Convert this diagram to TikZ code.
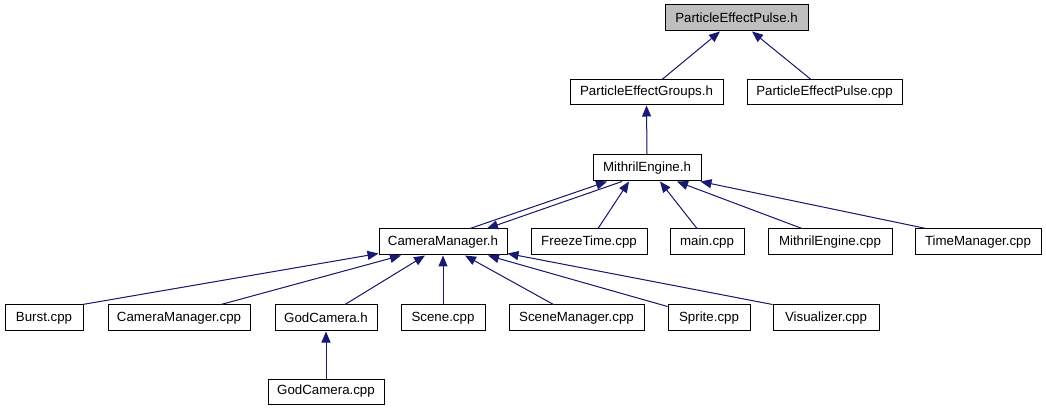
\documentclass[tikz,border=0pt]{standalone}
\usepackage{fontspec}
\setmainfont{Liberation Sans}
\usetikzlibrary{arrows.meta}
\definecolor{edgeblue}{HTML}{191970}
\definecolor{rootgray}{HTML}{BFBFBF}
\tikzset{
  fbox/.style={draw=black, line width=1pt, fill=white, inner sep=0pt, minimum height=26pt,
    font=\fontsize{13.3pt}{15pt}\selectfont, text=black},
  rootbox/.style={fbox, fill=rootgray},
  dep/.style={draw=edgeblue, line width=1pt, -{Triangle[length=11pt,width=9pt]}, fill=edgeblue}
}
\begin{document}
\begin{tikzpicture}[x=1pt,y=-1pt]
\useasboundingbox[fill=white] (0,0) rectangle (1046,411);
% row 0
\node[rootbox, minimum width=143pt] (peh) at (736.5,18) {ParticleEffectPulse.h};
% row 1
\node[fbox, minimum width=153pt, minimum height=25pt] (peg) at (646.5,92.5) {ParticleEffectGroups.h};
\node[fbox, minimum width=155pt, minimum height=25pt] (pec) at (824.5,92.5) {ParticleEffectPulse.cpp};
% row 2
\node[fbox, minimum width=108pt] (meh) at (647,168) {MithrilEngine.h};
% row 3
\node[fbox, minimum width=128pt] (cmh) at (443,242) {CameraManager.h};
\node[fbox, minimum width=116pt] (ftc) at (589,242) {FreezeTime.cpp};
\node[fbox, minimum width=74pt] (mainc) at (707,242) {main.cpp};
\node[fbox, minimum width=124pt] (mec) at (830,242) {MithrilEngine.cpp};
\node[fbox, minimum width=126pt] (tmc) at (978,242) {TimeManager.cpp};
% row 4
\node[fbox, minimum width=78pt] (burst) at (44,318) {Burst.cpp};
\node[fbox, minimum width=142pt] (cmc) at (179,318) {CameraManager.cpp};
\node[fbox, minimum width=102pt] (gch) at (326,318) {GodCamera.h};
\node[fbox, minimum width=84pt] (scene) at (443,318) {Scene.cpp};
\node[fbox, minimum width=135pt] (smc) at (576.5,318) {SceneManager.cpp};
\node[fbox, minimum width=82pt] (sprite) at (709,318) {Sprite.cpp};
\node[fbox, minimum width=106pt] (vis) at (826,318) {Visualizer.cpp};
% row 5
\node[fbox, minimum width=116pt, minimum height=25pt] (gcc) at (326,391.5) {GodCamera.cpp};
% edges
\draw[dep] ([xshift=15.5pt]peg.north) -- ([xshift=-16.5pt]peh.south);
\draw[dep] ([xshift=-13.5pt]pec.north) -- ([xshift=15.5pt]peh.south);
\draw[dep] (meh.north) -- (peg.south);
\draw[dep] ([xshift=27pt]cmh.north) -- ([xshift=-40pt]meh.south);
\draw[dep] ([xshift=-25pt]meh.south) -- ([xshift=44pt]cmh.north);
\draw[dep] ([xshift=9pt]ftc.north) -- ([xshift=-18pt]meh.south);
\draw[dep] ([xshift=-10pt]mainc.north) -- ([xshift=13pt]meh.south);
\draw[dep] ([xshift=-28pt]mec.north) -- ([xshift=30pt]meh.south);
\draw[dep] ([xshift=-52pt]tmc.north) -- ([xshift=-1pt]meh.south east);
\draw[dep] ([xshift=-1pt]burst.north east) -- ([yshift=2pt]cmh.south west);
\draw[dep] ([xshift=42pt]cmc.north) -- ([xshift=-42pt]cmh.south);
\draw[dep] ([xshift=19pt]gch.north) -- ([xshift=-18pt]cmh.south);
\draw[dep] (scene.north) -- (cmh.south);
\draw[dep] ([xshift=-23pt]smc.north) -- ([xshift=22pt]cmh.south);
\draw[dep] ([yshift=-2pt]sprite.north west) -- ([xshift=45pt]cmh.south);
\draw[dep] (vis.north west) -- ([yshift=2pt]cmh.south east);
\draw[dep] (gcc.north) -- (gch.south);
\end{tikzpicture}
\end{document}
